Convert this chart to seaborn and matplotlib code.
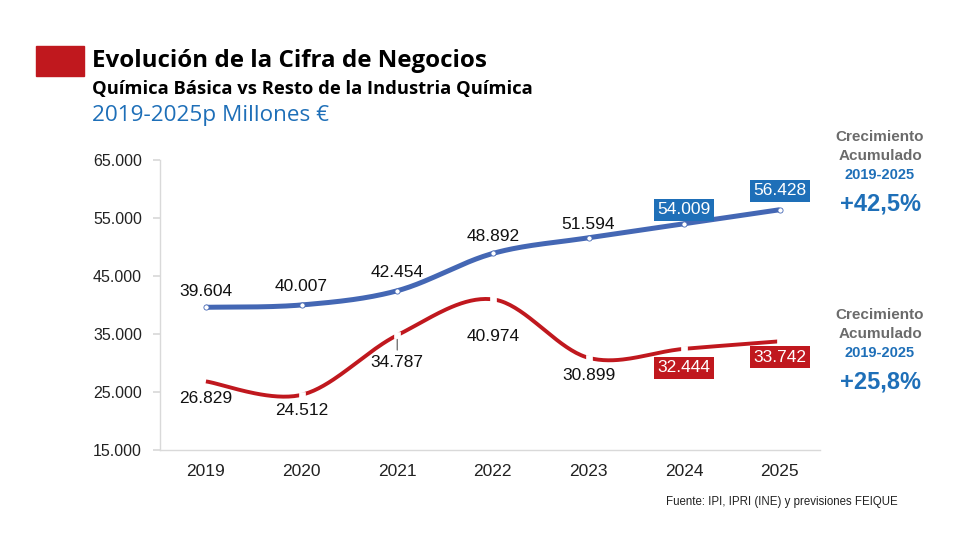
import numpy as np
import pandas as pd
import matplotlib
matplotlib.use("Agg")
import matplotlib.pyplot as plt
import seaborn as sns

years = ["2019", "2020", "2021", "2022", "2023", "2024", "2025"]
quimica_basica = [26829, 24512, 34787, 40974, 30899, 32444, 33742]
resto_industria = [39604, 40007, 42454, 48892, 51594, 54009, 56428]
y_ticks = [15000, 25000, 35000, 45000, 55000, 65000]

BLUE_LINE = "#4467B4"
BLUE_BOX = "#1E6FB8"
RED = "#C0181E"
GRAY = "#6B6B6B"


def fmt(v):
    return f"{v:,.0f}".replace(",", ".")


def smooth(xs, ys, n=40):
    # Catmull-Rom (Excel-like) smoothing through the data points
    xs = np.asarray(xs, float)
    ys = np.asarray(ys, float)
    P = np.column_stack([xs, ys])
    P = np.vstack([P[0], P, P[-1]])
    out = []
    for i in range(1, len(P) - 2):
        p0, p1, p2, p3 = P[i - 1], P[i], P[i + 1], P[i + 2]
        c1 = p1 + (p2 - p0) / 6
        c2 = p2 - (p3 - p1) / 6
        t = np.linspace(0, 1, n)[:, None]
        seg = ((1 - t) ** 3) * p1 + 3 * ((1 - t) ** 2) * t * c1 + 3 * (1 - t) * t ** 2 * c2 + t ** 3 * p2
        out.append(seg if i == 1 else seg[1:])
    out = np.vstack(out)
    return out[:, 0], out[:, 1]


sns.set_theme(style="white")
plt.rcParams["font.family"] = ["Liberation Sans", "DejaVu Sans"]

fig = plt.figure(figsize=(9.8, 5.6), dpi=100)
ax = fig.add_axes([160 / 980, 1 - 450 / 560, (820 - 160) / 980, (450 - 160) / 560])

xi = np.arange(len(years))
frames = []
for name, vals in [("resto", resto_industria), ("basica", quimica_basica)]:
    sx, sy = smooth(xi, vals)
    frames.append(pd.DataFrame({"x": sx, "y": sy, "serie": name}))
curve = pd.concat(frames, ignore_index=True)
pts = pd.concat([
    pd.DataFrame({"x": xi, "y": resto_industria, "serie": "resto"}),
    pd.DataFrame({"x": xi, "y": quimica_basica, "serie": "basica"}),
], ignore_index=True)

sns.lineplot(data=curve[curve.serie == "resto"], x="x", y="y", color=BLUE_LINE,
             linewidth=3.6, ax=ax, sort=False, solid_capstyle="butt", zorder=3)
sns.lineplot(data=curve[curve.serie == "basica"], x="x", y="y", color=RED,
             linewidth=2.8, ax=ax, sort=False, solid_capstyle="butt", zorder=3)
sns.scatterplot(data=pts[pts.serie == "resto"], x="x", y="y", color="white",
                s=14, edgecolor=BLUE_LINE, linewidth=0.6, ax=ax, zorder=4)
sns.scatterplot(data=pts[pts.serie == "basica"].iloc[1:], x="x", y="y", color="white",
                s=22, edgecolor="white", linewidth=0.5, marker="s", ax=ax, zorder=4)

ax.set_xlim(-0.48, 6.42)
ax.set_ylim(15000, 65000)
ax.set_yticks(y_ticks)
ax.set_yticklabels([fmt(v) for v in y_ticks], fontsize=11.5, color="#222222")
ax.set_xticks(xi)
ax.set_xticklabels(years, fontsize=12.5, color="#222222")
ax.set_xlabel("")
ax.set_ylabel("")
for s in ["top", "right"]:
    ax.spines[s].set_visible(False)
for s in ["left", "bottom"]:
    ax.spines[s].set_color("#D9D9D9")
    ax.spines[s].set_linewidth(1.0)
ax.tick_params(axis="y", which="both", left=True, length=5, color="#D9D9D9", pad=8)
ax.tick_params(axis="x", bottom=False, pad=4)
ax.grid(False)
ax.set_facecolor("white")

PX = 0.72  # points per pixel at 100 dpi

# blue labels (above), offsets in pixels from the point to the label centre
blue_off = [16, 18, 18, 17, 13, 14, 19]
for i, v in enumerate(resto_industria):
    kw = dict(ha="center", va="center", fontsize=12.5, zorder=6,
              xytext=(0, blue_off[i] * PX), textcoords="offset points")
    if i >= 5:
        ax.annotate(fmt(v), (i, v), color="white",
                    bbox=dict(boxstyle="square,pad=0.2", fc=BLUE_BOX, ec="none"), **kw)
    else:
        ax.annotate(fmt(v), (i, v), color="#111111", **kw)

# red labels (below)
red_off = [17, 16, 27, 37, 18, 19, 16]
for i, v in enumerate(quimica_basica):
    kw = dict(ha="center", va="center", fontsize=12.5, zorder=6,
              xytext=(0, -red_off[i] * PX), textcoords="offset points")
    if i >= 5:
        ax.annotate(fmt(v), (i, v), color="white",
                    bbox=dict(boxstyle="square,pad=0.2", fc=RED, ec="none"), **kw)
    elif i == 2:
        ax.annotate(fmt(v), (i, v), color="#111111",
                    arrowprops=dict(arrowstyle="-", color="#555555", lw=0.8,
                                    shrinkA=1, shrinkB=3), **kw)
    else:
        ax.annotate(fmt(v), (i, v), color="#111111", **kw)

# Title block
fig.patches.append(plt.Rectangle((36 / 980, 1 - 76 / 560), 48 / 980, 30 / 560,
                                 transform=fig.transFigure, color=RED, zorder=1))
fig.text(92 / 980, 1 - 61 / 560, "Evolución de la Cifra de Negocios", fontsize=17.4,
         fontweight="bold", family=["Open Sans", "DejaVu Sans"], color="black", va="center")
fig.text(92 / 980, 1 - 89 / 560, "Química Básica vs Resto de la Industria Química", fontsize=13.2,
         fontweight="bold", family=["Open Sans", "DejaVu Sans"], color="black", va="center")
fig.text(92 / 980, 1 - 116 / 560, "2019-2025p Millones €", fontsize=16.2,
         family=["Open Sans", "DejaVu Sans"], color=BLUE_BOX, va="center")

# Right side annotations
for top, pct in [(137, "+42,5%"), (315, "+25,8%")]:
    fig.text(880 / 980, 1 - top / 560, "Crecimiento", ha="center", va="center",
             fontsize=11, fontweight="bold", color=GRAY)
    fig.text(880 / 980, 1 - (top + 19) / 560, "Acumulado", ha="center", va="center",
             fontsize=11, fontweight="bold", color=GRAY)
    fig.text(880 / 980, 1 - (top + 38) / 560, "2019-2025", ha="center", va="center",
             fontsize=10.5, fontweight="bold", color=BLUE_BOX)
    fig.text(880 / 980, 1 - (top + 67) / 560, pct, ha="center", va="center",
             fontsize=17, fontweight="bold", color=BLUE_BOX)

fig.text(898 / 980, 1 - 502 / 560, "Fuente: IPI, IPRI (INE) y previsiones FEIQUE",
         ha="right", va="center", fontsize=8.3, color="#222222")

fig.savefig("out.png", dpi=100, facecolor="white")
